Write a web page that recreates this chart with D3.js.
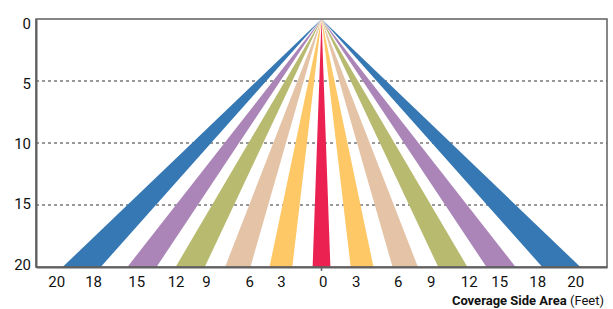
<!DOCTYPE html>
<html>
<head>
<meta charset="utf-8">
<script src="https://cdn.jsdelivr.net/npm/d3@7"></script>
<style>
  body { margin: 0; background: #fff; }
  text { font-family: Roboto, "Noto Sans", sans-serif; }
</style>
</head>
<body>
<div id="chart"></div>
<script>
// distance from the sensor (feet), drawn top to bottom
var depthTicks = [0, 5, 10, 15, 20];
var gridDepths = [5, 10, 15];

// each coverage band: inner and outer half width at 20 ft
var bandInner = [0, 2.3, 5.6, 9.2, 13.0, 17.4];
var bandOuter = [0.7, 4.1, 7.6, 11.5, 15.3, 20.4];
var bandColors = ["#eb2152", "#fec866", "#e4c3a6", "#b8ba70", "#ac85b8", "#3578b3"];

// labels under the chart and where they sit on the side axis
var sideLabels = ["20", "18", "15", "12", "9", "6", "3", "0", "3", "6", "9", "12", "15", "18", "20"];
var sidePositions = [-20.9, -18.0, -14.6, -11.5, -9.1, -5.7, -3.2, 0.1, 2.7, 6.0, 8.6, 11.6, 14.0, 17.0, 20.0];

var width = 613, height = 309;
var margin = {top: 19, right: 6, bottom: 42, left: 36};

var svg = d3.select("#chart").append("svg")
    .attr("width", width)
    .attr("height", height);

var x = d3.scaleLinear()
    .domain([-22.5, 22.5])
    .range([margin.left, width - margin.right]);

var y = d3.scaleLinear()
    .domain([0, 20])
    .range([margin.top, height - margin.bottom]);

// labels on the depth axis are spread a little tighter than the gridlines
var yLabel = d3.scaleLinear()
    .domain([0, 20])
    .range([margin.top + 3.8, height - margin.bottom - 3]);

//dashed gridlines
svg.selectAll(".grid")
    .data(gridDepths)
    .enter()
    .append("line")
    .attr("class", "grid")
    .attr("x1", x.range()[0])
    .attr("x2", x.range()[1])
    .attr("y1", function (d) { return y(d); })
    .attr("y2", function (d) { return y(d); })
    .attr("stroke", "#333")
    .attr("stroke-width", 1)
    .attr("stroke-dasharray", "3,3");

//build the band polygons, both sides of the centre
var polys = [];
bandInner.forEach(function (inner, i) {
    var outer = bandOuter[i];
    if (inner === 0) {
        polys.push({pts: [[0, 0], [-outer, 20], [outer, 20]], color: bandColors[i]});
    } else {
        polys.push({pts: [[0, 0], [-outer, 20], [-inner, 20]], color: bandColors[i]});
        polys.push({pts: [[0, 0], [inner, 20], [outer, 20]], color: bandColors[i]});
    }
});

svg.selectAll(".band")
    .data(polys)
    .enter()
    .append("polygon")
    .attr("class", "band")
    .attr("points", function (d) {
        return d.pts.map(function (p) { return x(p[0]) + "," + y(p[1]); }).join(" ");
    })
    .attr("fill", function (d) { return d.color; });

//frame
svg.append("rect")
    .attr("x", x.range()[0])
    .attr("y", y.range()[0])
    .attr("width", x.range()[1] - x.range()[0])
    .attr("height", y.range()[1] - y.range()[0])
    .attr("fill", "none")
    .attr("stroke", "#5f5f5f")
    .attr("stroke-width", 1.5);

//depth axis
var yAxis = svg.append("g")
    .attr("transform", "translate(" + x.range()[0] + ",0)")
    .call(d3.axisLeft(y).tickValues(depthTicks).tickSize(0).tickPadding(5));
yAxis.select(".domain").attr("stroke", "#5f5f5f").attr("stroke-width", 2);
yAxis.selectAll(".tick text")
    .attr("y", function (d) { return yLabel(d) - y(d); })
    .attr("dy", "0.35em")
    .attr("font-size", 15)
    .attr("font-family", "Roboto, sans-serif")
    .attr("fill", "#111");

//side axis
var xAxis = svg.append("g")
    .attr("transform", "translate(0," + y.range()[1] + ")")
    .call(d3.axisBottom(x)
        .tickValues(sidePositions)
        .tickSize(0)
        .tickPadding(9)
        .tickFormat(function (d, i) { return sideLabels[i]; }));
xAxis.select(".domain").attr("stroke", "#5f5f5f").attr("stroke-width", 2);
xAxis.selectAll(".tick text")
    .attr("font-size", 15)
    .attr("font-family", "Roboto, sans-serif")
    .attr("fill", "#111");

//small tick under the apex
svg.append("line")
    .attr("x1", x(0)).attr("x2", x(0))
    .attr("y1", y(20)).attr("y2", y(20) + 4)
    .attr("stroke", "#5f5f5f")
    .attr("stroke-width", 1.5);

//axis title
var title = svg.append("text")
    .attr("x", width - 9)
    .attr("y", 305)
    .attr("text-anchor", "end")
    .attr("font-size", 13)
    .attr("fill", "#111");
title.append("tspan").attr("font-weight", "bold").text("Coverage Side Area");
title.append("tspan").text(" (Feet)");
</script>
</body>
</html>
